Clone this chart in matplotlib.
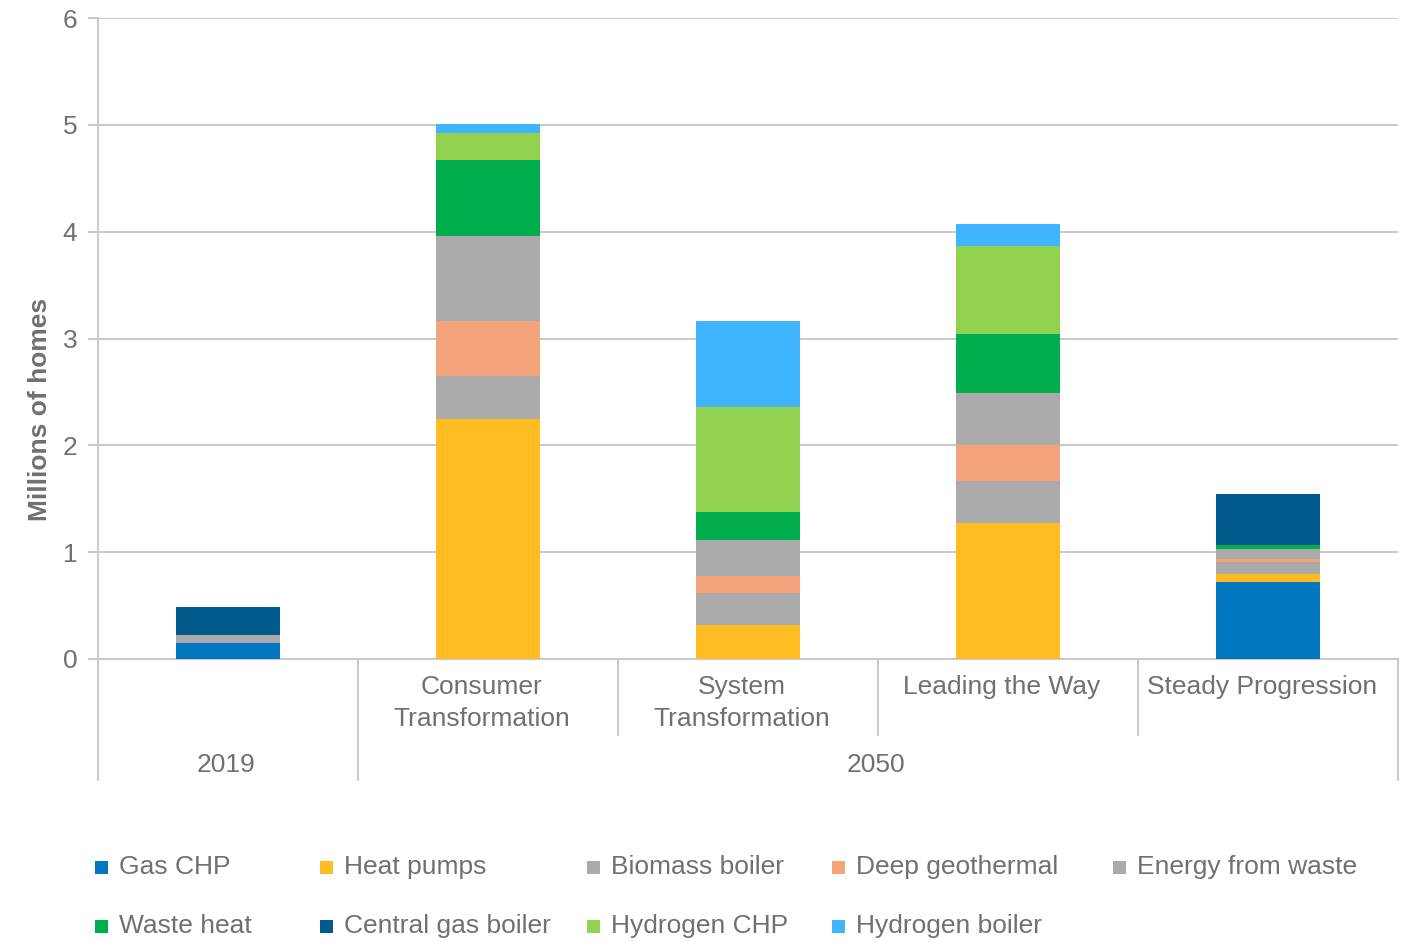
import matplotlib
matplotlib.use("Agg")
import matplotlib.pyplot as plt
from matplotlib.patches import Rectangle
from matplotlib.transforms import ScaledTranslation
import numpy as np

plt.rcParams['font.family'] = ['Liberation Sans', 'DejaVu Sans']

categories = ["", "Consumer\nTransformation", "System\nTransformation", "Leading the Way", "Steady Progression"]
groups = ["2019", "2050"]
series = ["Gas CHP", "Heat pumps", "Biomass boiler", "Deep geothermal", "Energy from waste",
          "Waste heat", "Central gas boiler", "Hydrogen CHP", "Hydrogen boiler"]
colors = ["#0077c0", "#febc22", "#aaaaab", "#f4a37a", "#aaaaab",
          "#00ad4d", "#005a8c", "#92d050", "#40b4ff"]

gas_chp        = [0.15, 0.00, 0.00, 0.00, 0.72]
heat_pumps     = [0.00, 2.25, 0.32, 1.27, 0.08]
biomass_boiler = [0.00, 0.40, 0.30, 0.40, 0.11]
deep_geo       = [0.00, 0.51, 0.16, 0.33, 0.03]
energy_waste   = [0.07, 0.80, 0.33, 0.49, 0.09]
waste_heat     = [0.00, 0.71, 0.27, 0.55, 0.04]
central_gas    = [0.27, 0.00, 0.00, 0.00, 0.47]
hydrogen_chp   = [0.00, 0.25, 0.98, 0.83, 0.00]
hydrogen_boil  = [0.00, 0.09, 0.80, 0.20, 0.00]

data = [gas_chp, heat_pumps, biomass_boiler, deep_geo, energy_waste,
        waste_heat, central_gas, hydrogen_chp, hydrogen_boil]

W, H = 1407, 942
fig = plt.figure(figsize=(W/100, H/100), dpi=100)
ax = fig.add_axes([98/W, (H-659)/H, 1300/W, (659-18)/H])

x = np.arange(len(categories))
bottom = np.zeros(len(categories))
for vals, c, name in zip(data, colors, series):
    v = np.array(vals)
    ax.bar(x, v, width=0.4, bottom=bottom, color=c, edgecolor='none', label=name, zorder=3)
    bottom += v

ax.set_xlim(-0.5, len(categories) - 0.5)
ax.set_ylim(0, 6)
ax.set_yticks(range(0, 7))
gridc = "#c8c8c8"
txtc = "#707070"
ax.yaxis.grid(True, color=gridc, linewidth=1.4, zorder=0)
ax.set_axisbelow(True)
for s in ["top", "right"]:
    ax.spines[s].set_visible(False)
for s in ["left", "bottom"]:
    ax.spines[s].set_color(gridc)
    ax.spines[s].set_linewidth(1.4)
ax.tick_params(axis='y', colors=gridc, labelcolor=txtc, labelsize=19, length=7, width=1.4, pad=8)
ax.set_xticks([])
ax.set_ylabel("Millions of homes", fontsize=19, fontweight='bold', color=txtc)
ax.yaxis.set_label_coords(-0.035, 0.39)

trans = ax.get_xaxis_transform()
shift_lab = trans + ScaledTranslation(-6/100, 0, fig.dpi_scale_trans)
shift_grp = trans + ScaledTranslation(-2/100, 0, fig.dpi_scale_trans)
ah = 659 - 18
inner_y = (659 - 735) / ah
outer_y = (659 - 780) / ah
for i in range(len(categories) + 1):
    xs = i - 0.5
    yb = outer_y if i in (0, 1, len(categories)) else inner_y
    ax.plot([xs, xs], [0, yb], transform=trans, color=gridc, lw=1.4, clip_on=False)

line_px = [687, 719]
for i, lab in enumerate(categories):
    if lab:
        for j, line in enumerate(lab.split("\n")):
            ax.text(i, (659 - line_px[j]) / ah, line, transform=shift_lab, ha='center', va='center',
                    fontsize=19, color=txtc)
ax.text(0, (659 - 765) / ah, groups[0], transform=shift_grp, ha='center', va='center', fontsize=19, color=txtc)
ax.text(2.5, (659 - 765) / ah, groups[1], transform=shift_grp, ha='center', va='center', fontsize=19, color=txtc)

# legend drawn manually to match column positions
col_x = [95, 320, 587, 832, 1113]
row_y = [867, 926]
for k, (name, c) in enumerate(zip(series, colors)):
    r, col = divmod(k, 5)
    px, py = col_x[col], row_y[r]
    sq = 13
    fig.patches.append(Rectangle((px / W, (H - py - sq / 2) / H), sq / W, sq / H,
                                 transform=fig.transFigure, facecolor=c, edgecolor='none'))
    fig.text((px + 24) / W, (H - py) / H, name, fontsize=19, color=txtc, va='center', ha='left')

fig.savefig("out.png", dpi=100)
